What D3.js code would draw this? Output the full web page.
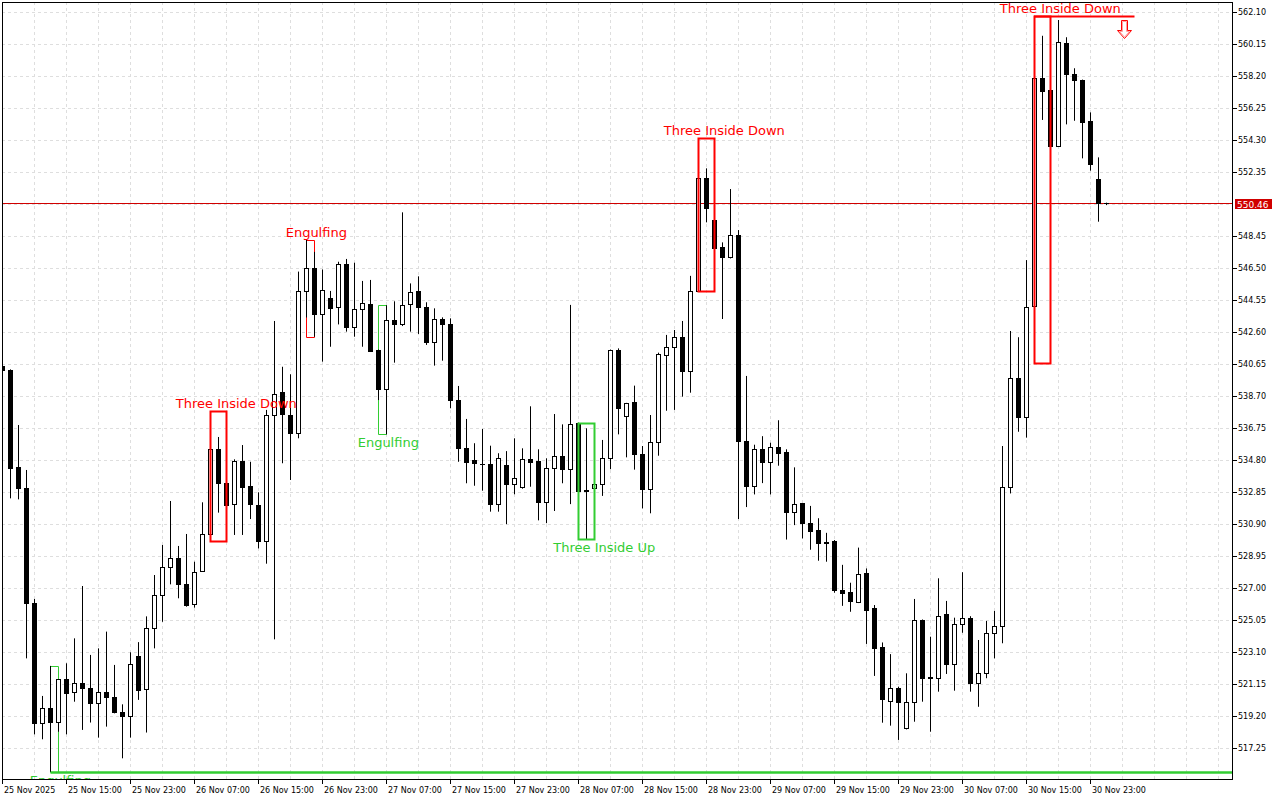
<!DOCTYPE html>
<html><head><meta charset="utf-8">
<script src="https://cdn.jsdelivr.net/npm/d3@7"></script>
<style>html,body{margin:0;padding:0;background:#fff;}svg{display:block;}</style>
</head><body>
<svg id="chart" width="1280" height="800"></svg>
<script>
// ---- DATA (first candle is index -1, partially off the left edge) ----
const opens = [540.55,
 540.30,534.37,533.09,526.09,518.77,519.69,518.85,521.45,520.66,521.21,
 520.91,519.99,520.66,520.39,519.48,519.24,522.87,520.85,524.56,526.57,
 528.28,528.87,527.24,526.02,528.05,530.29,535.47,533.40,532.11,534.76,
 533.23,532.08,529.88,537.56,538.94,537.56,536.45,545.12,546.50,543.70,
 544.67,544.12,546.74,542.90,544.00,544.31,541.50,539.16,543.33,543.12,
 544.31,545.12,544.12,542.03,543.43,543.09,538.47,535.53,534.80,534.59,
 534.59,532.15,534.51,533.33,533.19,534.86,534.76,532.24,534.31,535.06,
 534.25,537.05,532.97,533.09,533.33,534.92,541.52,537.50,538.33,535.17,
 533.04,535.94,541.22,541.72,542.30,540.26,545.14,551.98,549.44,547.79,
 547.16,548.53,535.99,533.21,535.49,534.67,535.63,535.32,531.67,532.18,
 530.96,530.55,529.82,529.88,526.87,526.77,526.19,527.94,525.80,523.42,
 520.15,520.91,518.47,520.05,525.07,521.58,521.52,525.44,522.40,524.81,
 525.21,521.25,521.82,524.26,524.70,533.15,539.80,537.46,544.20,558.08,
 557.37,553.97,560.21,558.32,557.97,555.47,551.92,550.46];
const highs = [540.60,
 540.34,536.95,534.21,526.35,520.44,522.27,521.45,522.43,523.95,527.14,
 522.94,523.34,524.36,522.33,519.93,523.10,523.72,525.29,527.81,529.64,
 532.32,529.58,530.31,528.62,532.24,537.80,536.22,533.64,534.86,535.73,
 534.71,532.85,537.87,543.29,540.50,540.04,546.30,548.24,547.50,546.43,
 545.12,546.90,547.07,546.84,545.73,545.79,541.55,544.25,544.49,549.91,
 545.58,546.01,544.43,544.06,543.51,543.45,539.33,537.32,535.84,536.71,
 535.69,535.23,535.36,536.14,535.53,538.09,535.47,534.92,537.62,536.99,
 544.27,537.09,536.75,534.19,536.04,541.55,541.62,538.30,539.35,535.67,
 537.56,541.36,542.44,542.74,543.29,546.04,554.42,552.59,551.37,548.08,
 551.33,548.83,539.94,535.75,536.27,535.87,537.24,535.47,534.37,532.20,
 532.02,531.27,530.38,529.94,528.43,527.34,529.48,528.21,525.98,523.70,
 522.99,521.00,521.82,526.35,525.10,524.05,527.61,526.23,525.21,527.98,
 525.30,523.85,525.01,525.62,535.67,542.68,542.30,547.00,561.89,560.67,
 559.30,561.63,560.58,558.69,558.00,556.00,553.26,550.50];
const lows = [540.25,
 532.48,532.42,522.73,518.10,517.80,515.82,518.26,518.10,520.09,518.37,
 518.82,517.90,518.57,519.38,516.64,517.90,520.20,518.21,523.34,524.96,
 527.24,526.39,525.88,525.82,528.01,530.10,531.61,529.87,530.25,530.25,
 531.22,529.43,528.50,523.89,534.62,533.60,536.14,543.50,542.33,540.81,
 541.72,543.08,542.64,542.33,541.72,541.40,538.47,536.38,540.75,542.98,
 542.64,542.50,541.83,540.57,540.87,537.97,534.71,533.40,533.25,532.95,
 531.67,531.67,530.91,532.73,533.07,533.19,531.14,530.97,531.71,533.40,
 532.13,532.20,529.99,532.17,532.63,534.26,536.38,534.98,534.23,531.87,
 531.57,535.08,537.82,537.87,538.68,538.92,545.14,549.30,547.11,543.41,
 547.10,531.22,531.95,532.72,533.41,532.72,534.47,529.97,530.85,530.04,
 529.35,528.68,528.62,526.73,525.93,525.57,526.10,523.61,521.66,518.81,
 518.63,517.76,518.40,518.87,520.09,518.26,520.70,521.78,520.76,524.29,
 520.70,519.78,521.52,522.73,523.65,532.78,536.54,536.18,540.71,555.54,
 549.91,553.90,555.27,555.49,553.20,552.45,549.34,550.35];
const closes = [540.30,
 534.35,533.09,526.09,518.77,519.69,518.87,521.45,520.64,521.21,520.91,
 519.99,520.66,520.39,519.48,519.24,522.37,520.80,524.56,526.57,528.28,
 528.87,527.24,525.98,528.01,530.29,535.47,533.40,532.08,534.76,533.19,
 532.12,529.90,537.56,538.82,537.60,536.45,545.12,546.50,543.70,545.16,
 544.06,546.74,542.90,544.00,544.37,541.48,539.16,543.33,543.12,544.25,
 545.04,544.12,542.03,543.39,543.09,538.47,535.53,534.71,534.65,534.55,
 532.15,534.92,533.33,533.70,534.86,534.71,532.24,534.31,535.06,534.25,
 536.99,532.95,532.92,533.33,534.92,541.52,537.97,538.27,535.17,533.04,
 535.94,541.26,541.72,542.30,540.26,545.14,551.98,550.16,547.75,547.16,
 548.51,535.97,533.21,535.49,534.67,535.59,535.25,531.67,532.14,530.96,
 530.51,529.78,529.78,526.89,526.73,526.24,527.88,525.68,523.38,520.23,
 520.91,520.05,520.05,525.07,521.56,521.54,525.31,522.40,524.81,525.21,
 521.25,521.82,524.26,524.70,533.15,539.80,537.46,544.16,558.08,557.33,
 553.97,560.27,558.32,557.97,555.43,552.84,550.46,550.46];

const yTickValues = [562.10,560.15,558.20,556.25,554.30,552.35,550.40,548.45,546.50,544.55,542.60,
 540.65,538.70,536.75,534.80,532.85,530.90,528.95,527.00,525.05,523.10,521.15,519.20,517.25];
const timeLabels = ["25 Nov 2025","25 Nov 15:00","25 Nov 23:00","26 Nov 07:00","26 Nov 15:00",
 "26 Nov 23:00","27 Nov 07:00","27 Nov 15:00","27 Nov 23:00","28 Nov 07:00","28 Nov 15:00",
 "28 Nov 23:00","29 Nov 07:00","29 Nov 15:00","29 Nov 23:00","30 Nov 07:00","30 Nov 15:00","30 Nov 23:00"];
const currentPrice = 550.46;

const patternStarts  = [5, 25, 37, 46, 71, 86, 128];
const patternLengths = [2, 3, 2, 2, 3, 3, 3];
const patternNames   = ["Engulfing","Three Inside Down","Engulfing","Engulfing","Three Inside Up","Three Inside Down","Three Inside Down"];
const patternBullish = [true, false, false, true, true, false, false];

// ---- LAYOUT ----
const firstIndex = -1;
const plot = {left: 2, top: 2, right: 1232, bottom: 779};
const RED = "#ff0000", GREEN = "#32cd32", PRICE_RED = "#d00000";
const FONT = "'DejaVu Sans', Verdana, sans-serif";

const x = d3.scaleLinear().domain([0, 137]).range([10.3, 1106.3]);
const y = d3.scaleLinear().domain([517.25, 562.10]).range([748.3, 12.3]);
const cx = i => Math.round(x(i)) + 0.5;
const cy = v => Math.round(y(v)) + 0.5;

const candles = opens.map((o, k) => ({i: k + firstIndex, o, h: highs[k], l: lows[k], c: closes[k]}));

const svg = d3.select("#chart");
svg.append("rect").attr("width", 1280).attr("height", 800).attr("fill", "#fff");

svg.append("defs").append("clipPath").attr("id", "clip")
  .append("rect").attr("x", plot.left).attr("y", plot.top)
  .attr("width", plot.right - plot.left).attr("height", plot.bottom - plot.top);

const g = svg.append("g").attr("clip-path", "url(#clip)");

// grid
const gridX = d3.range(firstIndex, 160, 4).filter(i => x(i) < plot.right);
g.selectAll(".gx").data(gridX).join("line")
  .attr("x1", d => cx(d)).attr("x2", d => cx(d))
  .attr("y1", plot.top).attr("y2", plot.bottom)
  .attr("stroke", "#dedede").attr("stroke-dasharray", "3,3");
g.selectAll(".gy").data(yTickValues).join("line")
  .attr("x1", plot.left).attr("x2", plot.right)
  .attr("y1", d => cy(d)).attr("y2", d => cy(d))
  .attr("stroke", "#dedede").attr("stroke-dasharray", "3,3");

// patterns
const patterns = patternStarts.map((s, k) => {
  const idx = d3.range(s, s + patternLengths[k]);
  const cs = idx.map(i => candles[i - firstIndex]);
  return {start: s, end: s + patternLengths[k] - 1, len: patternLengths[k], name: patternNames[k],
    bull: patternBullish[k], top: d3.max(cs, d => d.h), bottom: d3.min(cs, d => d.l), k};
});
const lastK = patterns.length - 1;

function drawBox(sel, p) {
  const col = p.bull ? GREEN : RED;
  const sw = p.len === 3 ? 2 : 1;
  const x1 = cx(p.start), x2 = cx(p.end), y1 = cy(p.top), y2 = cy(p.bottom);
  sel.append("path")
    .attr("d", `M${x1},${y1}H${x2}V${y2}H${x1}Z`)
    .attr("fill", "none").attr("stroke", col).attr("stroke-width", sw);
}

const thinG = g.append("g");
patterns.filter(p => p.len === 2).forEach(p => drawBox(thinG, p));
// extended bottom line of the first bullish engulfing
{
  const p = patterns[0];
  thinG.append("line").attr("x1", cx(p.start)).attr("x2", plot.right)
    .attr("y1", cy(p.bottom)).attr("y2", cy(p.bottom))
    .attr("stroke", GREEN).attr("stroke-width", 2.5);
}

// current price line
g.append("line").attr("x1", plot.left).attr("x2", plot.right)
  .attr("y1", Math.round(y(currentPrice)) + 0.5).attr("y2", Math.round(y(currentPrice)) + 0.5)
  .style("stroke", PRICE_RED).style("stroke-width", "1px");

// candles
const cg = g.append("g");
cg.selectAll(".wick").data(candles).join("line")
  .attr("x1", d => cx(d.i)).attr("x2", d => cx(d.i))
  .attr("y1", d => y(d.h)).attr("y2", d => y(d.l))
  .attr("stroke", "#000").attr("stroke-width", 1);
cg.selectAll(".body").data(candles).join("rect")
  .attr("x", d => cx(d.i) - 2)
  .attr("width", 4)
  .attr("y", d => Math.round(y(Math.max(d.o, d.c))) + 0.5)
  .attr("height", d => Math.max(0.01, Math.round(y(Math.min(d.o, d.c))) - Math.round(y(Math.max(d.o, d.c)))))
  .attr("fill", d => d.c < d.o ? "#000" : "#fff")
  .attr("stroke", "#000").attr("stroke-width", 1);

// thick (three-candle) boxes drawn above candles
const thickG = g.append("g");
patterns.filter(p => p.len === 3).forEach(p => drawBox(thickG, p));

// latest signal: extended top line + arrow
{
  const p = patterns[lastK];
  const ax = cx(139.2);
  const yt = cy(p.top);
  thickG.append("line").attr("x1", cx(p.start)).attr("x2", ax + 10)
    .attr("y1", yt).attr("y2", yt).attr("stroke", RED).attr("stroke-width", 2);
  const a0 = yt + 4, a1 = yt + 14, a2 = yt + 22;
  thickG.append("path")
    .attr("d", `M${ax-3},${a0}H${ax+3}V${a1}H${ax+7}L${ax},${a2}L${ax-7},${a1}H${ax-3}Z`)
    .attr("fill", "#fff").attr("stroke", RED).attr("stroke-width", 1);
  thickG.append("path")
    .attr("d", `M${ax-2},${a0+1}H${ax+2}V${a1+1}H${ax+5}L${ax},${a2-1.5}L${ax-5},${a1+1}H${ax-2}Z`)
    .attr("fill", "#fff").attr("stroke", "#ffa0a0").attr("stroke-width", 1);
}

// pattern labels
g.selectAll(".plabel").data(patterns).join("text")
  .attr("x", p => x(p.end) + (p.len === 3 ? 10 : 2))
  .attr("y", p => p.bull ? y(p.bottom) + 13 : y(p.top) - 3)
  .attr("text-anchor", "middle")
  .attr("font-family", FONT).attr("font-size", 13)
  .attr("fill", p => p.bull ? GREEN : RED)
  .text(p => p.name);

// frame / axes
svg.append("line").attr("x1", plot.left + 0.5).attr("x2", plot.left + 0.5)
  .attr("y1", plot.top).attr("y2", plot.bottom).attr("stroke", "#000");
svg.append("line").attr("x1", plot.left).attr("x2", plot.right)
  .attr("y1", plot.top + 0.5).attr("y2", plot.top + 0.5).attr("stroke", "#000");
svg.append("line").attr("x1", plot.right + 0.5).attr("x2", plot.right + 0.5)
  .attr("y1", plot.top).attr("y2", plot.bottom + 1).attr("stroke", "#000");
svg.append("line").attr("x1", plot.left).attr("x2", plot.right + 1)
  .attr("y1", plot.bottom + 0.5).attr("y2", plot.bottom + 0.5).attr("stroke", "#000");

// right axis
const yAxisTicks = yTickValues.filter(v => Math.abs(y(v) - y(currentPrice)) > 8);
const ya = svg.append("g");
ya.selectAll("line").data(yAxisTicks).join("line")
  .attr("x1", plot.right).attr("x2", plot.right + 5)
  .attr("y1", d => cy(d)).attr("y2", d => cy(d)).attr("stroke", "#000");
ya.selectAll("text").data(yAxisTicks).join("text")
  .attr("x", plot.right + 6).attr("y", d => y(d) + 3)
  .attr("font-family", FONT).attr("font-size", 8).attr("fill", "#000")
  .text(d => d.toFixed(2));
ya.append("rect").attr("x", plot.right + 3).attr("y", Math.round(y(currentPrice)) - 4)
  .attr("width", 37).attr("height", 10).attr("fill", PRICE_RED);
ya.append("text").attr("x", plot.right + 5).attr("y", Math.round(y(currentPrice)) + 4.5)
  .attr("font-family", FONT).attr("font-size", 9).attr("fill", "#fff")
  .text(currentPrice.toFixed(2));

// bottom axis
const tIdx = timeLabels.map((t, k) => firstIndex + 8 * k);
const xa = svg.append("g");
xa.selectAll("line").data(tIdx).join("line")
  .attr("x1", d => cx(d)).attr("x2", d => cx(d))
  .attr("y1", plot.bottom).attr("y2", plot.bottom + 5).attr("stroke", "#000");
xa.selectAll("text").data(timeLabels).join("text")
  .attr("x", (t, k) => cx(tIdx[k]) + 1.5).attr("y", plot.bottom + 14)
  .attr("font-family", FONT).attr("font-size", 8).attr("fill", "#000")
  .text(t => t);
</script>
</body></html>
